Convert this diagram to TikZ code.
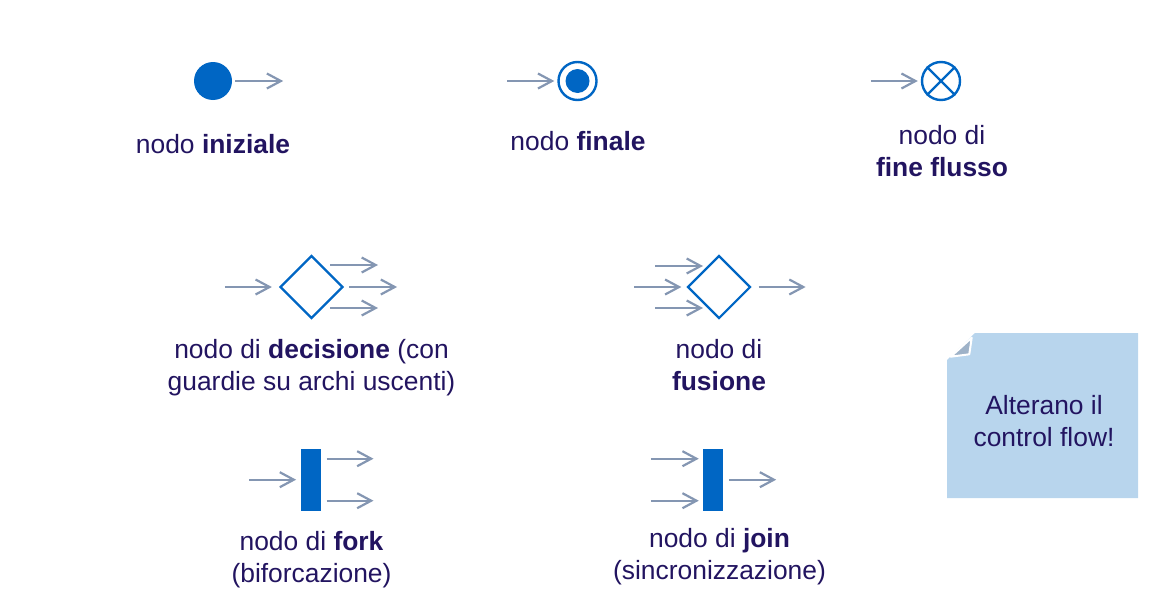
\documentclass[tikz,border=0pt]{standalone}
\usepackage{fontspec}
\setmainfont{Liberation Sans}
\usetikzlibrary{shapes.geometric,arrows.meta}

\definecolor{umlblue}{RGB}{0,102,196}
\definecolor{flowgray}{RGB}{132,150,178}
\definecolor{textnavy}{RGB}{34,20,96}
\definecolor{notefill}{RGB}{184,213,237}
\definecolor{foldgray}{RGB}{158,178,200}

\tikzset{
  flow/.style={draw=flowgray, line width=2.2pt,
    -{Straight Barb[length=14pt,width=15pt,line width=2.2pt]}},
  lbl/.style={text=textnavy, font=\fontsize{26.4}{32}\selectfont,
    align=center, inner sep=0pt, anchor=base},
  initnode/.style={circle, fill=umlblue, minimum size=38pt, inner sep=0pt},
  ringnode/.style={circle, draw=umlblue, line width=2.4pt, minimum size=38pt, inner sep=0pt},
  choice/.style={diamond, draw=umlblue, line width=2.2pt, minimum width=63pt,
    minimum height=63pt, inner sep=0pt},
  syncbar/.style={rectangle, fill=umlblue, minimum width=20pt,
    minimum height=62pt, inner sep=0pt}
}

\begin{document}
\begin{tikzpicture}[x=1pt, y=-1pt]
\useasboundingbox (0,0) rectangle (1151,605);

        % initial node
        \node[initnode] (ini) at (213,81) {};
        \draw[flow] ([xshift=3pt]ini.east) -- ++(48,0);
        \node[lbl] (lblIni) at (213,153) {nodo \textbf{iniziale}};

        % final node
        \node[ringnode] (fin) at (577.5,81) {};
        \fill[umlblue] (fin.center) circle (12pt);
        \draw[flow] ([xshift=-50pt]fin.west) -- ([xshift=-3pt]fin.west);
        \node[lbl] (lblFin) at (578,150) {nodo \textbf{finale}};

        % flow final node
        \node[ringnode] (ff) at (941,81) {};
        \draw[umlblue, line width=2.2pt] (ff.north west) -- (ff.south east)
              (ff.north east) -- (ff.south west);
        \draw[flow] ([xshift=-50pt]ff.west) -- ([xshift=-3pt]ff.west);
        \node[lbl] (lblFf) at (942,176.5) {nodo di\\\textbf{fine flusso}};

        % decision
        \node[choice] (dec) at (311.5,287) {};
        \draw[flow] ([xshift=-54pt]dec.west) -- ([xshift=-7pt]dec.west);
        \draw[flow] ([shift={(18.5pt,22pt)}]dec.center) -- ++(48,0);
        \draw[flow] ([xshift=5pt]dec.east) -- ++(48,0);
        \draw[flow] ([shift={(18.5pt,-21pt)}]dec.center) -- ++(48,0);
        \node[lbl] (lblDec) at (311.5,390) {nodo di \textbf{decisione} (con\\guardie su archi uscenti)};

        % merge
        \node[choice] (mrg) at (719,287) {};
        \draw[flow] ([shift={(-64pt,21pt)}]mrg.center) -- ++(48,0);
        \draw[flow] ([xshift=-52pt]mrg.west) -- ([xshift=-5pt]mrg.west);
        \draw[flow] ([shift={(-64pt,-21pt)}]mrg.center) -- ++(48,0);
        \draw[flow] ([xshift=7pt]mrg.east) -- ++(47,0);
        \node[lbl] (lblMrg) at (719,390) {nodo di\\\textbf{fusione}};

        % fork
        \node[syncbar] (fork) at (311.3,479.7) {};
        \draw[flow] ([xshift=-52pt]fork.west) -- ([xshift=-5pt]fork.west);
        \draw[flow] ([shift={(5pt,21pt)}]fork.east) -- ++(47,0);
        \draw[flow] ([shift={(5pt,-21pt)}]fork.east) -- ++(47,0);
        \node[lbl] (lblFork) at (311.5,582) {nodo di \textbf{fork}\\(biforcazione)};

        % join
        \node[syncbar] (join) at (713,479.7) {};
        \draw[flow] ([shift={(-52pt,21pt)}]join.west) -- ++(48,0);
        \draw[flow] ([shift={(-52pt,-21pt)}]join.west) -- ++(48,0);
        \draw[flow] ([xshift=6pt]join.east) -- ++(47,0);
        \node[lbl] (lblJoin) at (719.5,579) {nodo di \textbf{join}\\(sincronizzazione)};

        % note
        \fill[notefill] (947,360) -- (975,333) -- (1138,333) -- (1138,498)
              -- (947,498) -- cycle;
        \filldraw[fill=foldgray, draw=white, line width=2pt, line join=round]
              (950.7,356.7) -- (971.7,337.7) -- (969.3,354.3) -- cycle;
        \node[lbl] (note) at (1044,446) {Alterano il\\control flow!};

\end{tikzpicture}
\end{document}
